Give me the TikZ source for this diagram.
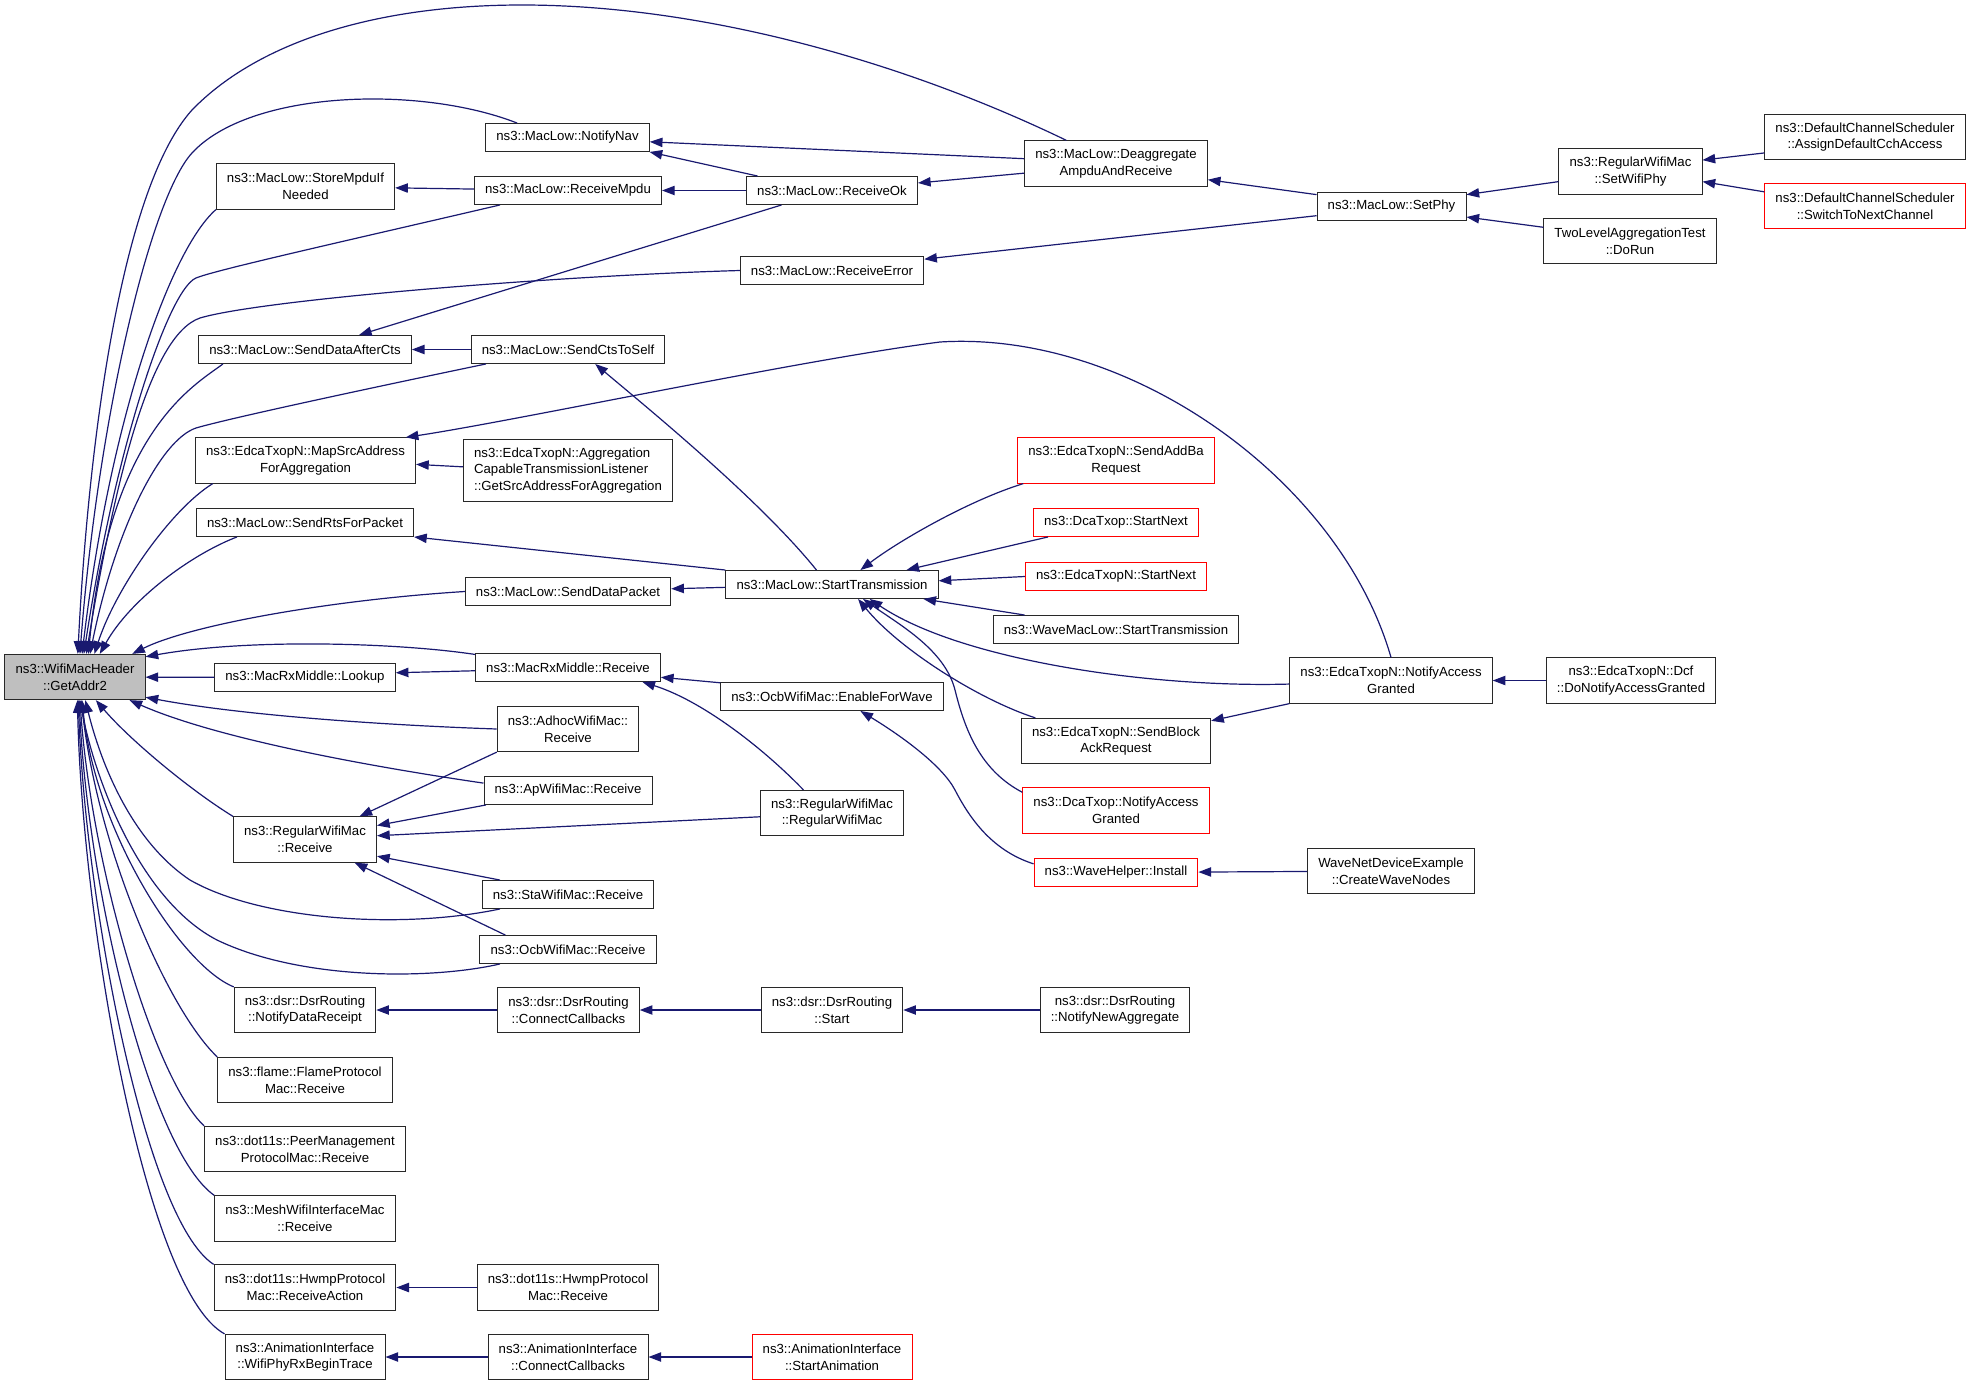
\documentclass[tikz,border=0pt]{standalone}
\usepackage{fontspec}
\setmainfont{Liberation Sans}
\usetikzlibrary{arrows.meta}
\definecolor{edgeblue}{RGB}{25,25,112}
\definecolor{rootgray}{RGB}{191,191,191}
\definecolor{boxline}{RGB}{40,40,40}
\begin{document}
\begin{tikzpicture}[x=0.75pt, y=-0.75pt,
    funcbox/.style ={draw=boxline, line width=0.7pt, fill=white, align=center,
      font=\fontsize{9.9}{12.5}\selectfont, inner xsep=8pt, inner ysep=1pt, minimum height=21pt},
    twoline/.style ={funcbox, minimum height=34pt},
    redbox/.style ={draw=red},
    callarrow/.style ={edgeblue, line width=0.9pt, -{Triangle[length=9.5pt, width=7pt]}}]
   \path[fill=white] (0,0) rectangle (1971,1385);

   \node[twoline, fill=rootgray] (GetAddr) at (75,677) {ns3::WifiMacHeader\\::GetAddr2};

   \node[twoline] (StoreMpdu) at (305.5,186.5) {ns3::MacLow::StoreMpduIf\\Needed};
   \node[funcbox] (SendDataAfterCts) at (305,349.5) {ns3::MacLow::SendDataAfterCts};
   \node[twoline] (MapSrcAddress) at (305.5,460.5) {ns3::EdcaTxopN::MapSrcAddress\\ForAggregation};
   \node[funcbox] (SendRtsForPacket) at (305,522.5) {ns3::MacLow::SendRtsForPacket};
   \node[funcbox] (Lookup) at (305,677.5) {ns3::MacRxMiddle::Lookup};
   \node[twoline] (RegularReceive) at (305,839.5) {ns3::RegularWifiMac\\::Receive};
   \node[twoline] (NotifyDataReceipt) at (305,1010) {ns3::dsr::DsrRouting\\::NotifyDataReceipt};
   \node[twoline] (FlameReceive) at (305,1080) {ns3::flame::FlameProtocol\\Mac::Receive};
   \node[twoline] (PeerReceive) at (305,1149) {ns3::dot11s::PeerManagement\\ProtocolMac::Receive};
   \node[twoline] (MeshReceive) at (305,1218.5) {ns3::MeshWifiInterfaceMac\\::Receive};
   \node[twoline] (HwmpReceiveAction) at (305,1287.5) {ns3::dot11s::HwmpProtocol\\Mac::ReceiveAction};
   \node[twoline] (AnimRxBeginTrace) at (305,1357) {ns3::AnimationInterface\\::WifiPhyRxBeginTrace};

   \node[funcbox] (NotifyNav) at (567.5,137.5) {ns3::MacLow::NotifyNav};
   \node[funcbox] (ReceiveMpdu) at (568,190.5) {ns3::MacLow::ReceiveMpdu};
   \node[funcbox] (SendCtsToSelf) at (568,349.5) {ns3::MacLow::SendCtsToSelf};
   \node[funcbox, align=left, minimum height=47pt] (AggregationListener) at (568,470.5) {ns3::EdcaTxopN::Aggregation\\CapableTransmissionListener\\::GetSrcAddressForAggregation};
   \node[funcbox] (SendDataPacket) at (568,591.5) {ns3::MacLow::SendDataPacket};
   \node[funcbox] (RxMiddleReceive) at (568,667.5) {ns3::MacRxMiddle::Receive};
   \node[twoline] (AdhocReceive) at (568,729) {ns3::AdhocWifiMac::\\Receive};
   \node[funcbox] (ApReceive) at (568,790.5) {ns3::ApWifiMac::Receive};
   \node[funcbox] (StaReceive) at (568,894.5) {ns3::StaWifiMac::Receive};
   \node[funcbox] (OcbReceive) at (568,949.5) {ns3::OcbWifiMac::Receive};
   \node[twoline] (DsrConnect) at (568.5,1010) {ns3::dsr::DsrRouting\\::ConnectCallbacks};
   \node[twoline] (HwmpReceive) at (568,1287.5) {ns3::dot11s::HwmpProtocol\\Mac::Receive};
   \node[twoline] (AnimConnect) at (568,1357) {ns3::AnimationInterface\\::ConnectCallbacks};

   \node[funcbox] (ReceiveOk) at (832,190.5) {ns3::MacLow::ReceiveOk};
   \node[funcbox] (ReceiveError) at (832,270.5) {ns3::MacLow::ReceiveError};
   \node[funcbox] (StartTransmission) at (832,584.5) {ns3::MacLow::StartTransmission};
   \node[funcbox] (EnableForWave) at (832,696.5) {ns3::OcbWifiMac::EnableForWave};
   \node[twoline] (RegularCtor) at (832,813) {ns3::RegularWifiMac\\::RegularWifiMac};
   \node[twoline] (DsrStart) at (832,1010) {ns3::dsr::DsrRouting\\::Start};
   \node[twoline, redbox] (StartAnimation) at (832,1357) {ns3::AnimationInterface\\::StartAnimation};

   \node[twoline] (Deaggregate) at (1116,163.5) {ns3::MacLow::Deaggregate\\AmpduAndReceive};
   \node[twoline, redbox] (SendAddBa) at (1116,460.5) {ns3::EdcaTxopN::SendAddBa\\Request};
   \node[funcbox, redbox] (DcaStartNext) at (1116,522.5) {ns3::DcaTxop::StartNext};
   \node[funcbox, redbox] (EdcaStartNext) at (1116,576.5) {ns3::EdcaTxopN::StartNext};
   \node[funcbox] (WaveStartTransmission) at (1116,629.5) {ns3::WaveMacLow::StartTransmission};
   \node[twoline] (SendBlockAck) at (1116,741) {ns3::EdcaTxopN::SendBlock\\AckRequest};
   \node[twoline, redbox] (DcaNotifyAccess) at (1116,810.5) {ns3::DcaTxop::NotifyAccess\\Granted};
   \node[funcbox, redbox] (WaveInstall) at (1116,872.5) {ns3::WaveHelper::Install};
   \node[twoline] (NotifyNewAggregate) at (1115,1010) {ns3::dsr::DsrRouting\\::NotifyNewAggregate};

   \node[funcbox] (SetPhy) at (1391.5,206.5) {ns3::MacLow::SetPhy};
   \node[twoline] (EdcaNotifyAccess) at (1391,680.5) {ns3::EdcaTxopN::NotifyAccess\\Granted};
   \node[twoline] (CreateWaveNodes) at (1391,871) {WaveNetDeviceExample\\::CreateWaveNodes};

   \node[twoline] (SetWifiPhy) at (1630.5,171.5) {ns3::RegularWifiMac\\::SetWifiPhy};
   \node[twoline] (DoRun) at (1630,241) {TwoLevelAggregationTest\\::DoRun};
   \node[twoline] (DoNotifyAccess) at (1631,680.5) {ns3::EdcaTxopN::Dcf\\::DoNotifyAccessGranted};

   \node[twoline] (AssignCch) at (1865,137) {ns3::DefaultChannelScheduler\\::AssignDefaultCchAccess};
   \node[twoline, redbox] (SwitchChannel) at (1865,206) {ns3::DefaultChannelScheduler\\::SwitchToNextChannel};

   \draw[callarrow] (Deaggregate.155) .. controls (900,60) and (700,5) .. (522,5) .. controls (380,5) and (260,40) .. (192,110) .. controls (120,190) and (88,450) .. (GetAddr.83);
   \draw[callarrow] (NotifyNav.164) .. controls (420,85) and (250,90) .. (192,153) .. controls (150,199) and (98,420) .. (GetAddr.78);
   \draw[callarrow] (StoreMpdu.south west) .. controls (170,250) and (110,420) .. (GetAddr.73);
   \draw[callarrow] (ReceiveMpdu.192) .. controls (350,240) and (215,270) .. (196,278) .. controls (168,290) and (115,450) .. (GetAddr.69);
   \draw[callarrow] (ReceiveError.west) .. controls (550,276) and (260,300) .. (200,318) .. controls (150,335) and (115,480) .. (GetAddr.64);
   \draw[callarrow] (SendDataAfterCts.190) .. controls (195,385) and (110,430) .. (GetAddr.60);
   \draw[callarrow] (SendCtsToSelf.190) .. controls (380,386) and (230,418) .. (196,428) .. controls (160,440) and (115,530) .. (GetAddr.57);
   \draw[callarrow] (MapSrcAddress.194) .. controls (170,510) and (115,590) .. (GetAddr.50);
   \draw[callarrow] (SendRtsForPacket.192) .. controls (190,555) and (130,600) .. (GetAddr.43);
   \draw[callarrow] (SendDataPacket.west) .. controls (330,600) and (190,625) .. (GetAddr.22);
   \draw[callarrow] (RxMiddleReceive.172) .. controls (400,643) and (250,638) .. (GetAddr.16);
   \draw[callarrow] (Lookup) to (GetAddr);
   \draw[callarrow] (AdhocReceive.west) .. controls (380,725) and (240,715) .. (GetAddr.-16);
   \draw[callarrow] (ApReceive.175) .. controls (380,768) and (220,740) .. (GetAddr.-23);
   \draw[callarrow] (RegularReceive.north west) .. controls (190,790) and (130,740) .. (GetAddr.-48);
   \draw[callarrow] (StaReceive.192) .. controls (400,930) and (260,920) .. (190,880) .. controls (130,840) and (100,760) .. (GetAddr.-66);
   \draw[callarrow] (OcbReceive.192) .. controls (430,980) and (300,980) .. (217,940) .. controls (140,900) and (95,780) .. (GetAddr.-78);
   \draw[callarrow] (NotifyDataReceipt.north west) .. controls (180,965) and (95,830) .. (GetAddr.-73);
   \draw[callarrow] (FlameReceive.north west) .. controls (168,1010) and (98,850) .. (GetAddr.-75);
   \draw[callarrow] (PeerReceive.north west) .. controls (155,1080) and (92,870) .. (GetAddr.-78);
   \draw[callarrow] (MeshReceive.north west) .. controls (150,1150) and (88,890) .. (GetAddr.-80);
   \draw[callarrow] (HwmpReceiveAction.north west) .. controls (145,1220) and (85,900) .. (GetAddr.-82);
   \draw[callarrow] (AnimRxBeginTrace.north west) .. controls (145,1290) and (82,920) .. (GetAddr.-84);

   \draw[callarrow] (ReceiveMpdu) to (StoreMpdu);
   \draw[callarrow] (Deaggregate.177) to (NotifyNav.-3);
   \draw[callarrow] (ReceiveOk.169) to (NotifyNav.-10);
   \draw[callarrow] (ReceiveOk) to (ReceiveMpdu);
   \draw[callarrow] (Deaggregate.186) to (ReceiveOk.5);
   \draw[callarrow] (ReceiveOk.196) to (SendDataAfterCts.15);
   \draw[callarrow] (SendCtsToSelf) to (SendDataAfterCts);
   \draw[callarrow] (StartTransmission.137) .. controls (760,500) and (650,410) .. (SendCtsToSelf.-28);
   \draw[callarrow] (SetPhy.171) to (Deaggregate.-10);
   \draw[callarrow] (SetPhy.187) to (ReceiveError.7);
   \draw[callarrow] (SetWifiPhy.188) to (SetPhy.9);
   \draw[callarrow] (DoRun.171) to (SetPhy.-8);
   \draw[callarrow] (AssignCch.189) to (SetWifiPhy.9);
   \draw[callarrow] (SwitchChannel.172) to (SetWifiPhy.-8);
   \draw[callarrow] (AggregationListener.178) to (MapSrcAddress.-2);
   \draw[callarrow] (EdcaNotifyAccess.north) .. controls (1340,480) and (1130,330) .. (940,342) .. controls (800,360) and (520,420) .. (MapSrcAddress.13);
   \draw[callarrow] (StartTransmission.north west) to (SendRtsForPacket.south east);
   \draw[callarrow] (StartTransmission) to (SendDataPacket);
   \draw[callarrow] (SendAddBa.194) .. controls (970,500) and (900,540) .. (StartTransmission.27);
   \draw[callarrow] (DcaStartNext.192) to (StartTransmission.11);
   \draw[callarrow] (EdcaStartNext.west) to (StartTransmission.2);
   \draw[callarrow] (WaveStartTransmission.171) to (StartTransmission.-9);
   \draw[callarrow] (EdcaNotifyAccess.182) .. controls (1150,688) and (960,660) .. (StartTransmission.-21);
   \draw[callarrow] (SendBlockAck.164) .. controls (980,700) and (900,650) .. (StartTransmission.-29);
   \draw[callarrow] (DcaNotifyAccess.169) .. controls (980,770) and (965,730) .. (955,690) .. controls (945,650) and (900,625) .. (StartTransmission.-25);
   \draw[callarrow] (DoNotifyAccess) to (EdcaNotifyAccess);
   \draw[callarrow] (EdcaNotifyAccess.south west) to (SendBlockAck.12);
   \draw[callarrow] (RxMiddleReceive.182) to (Lookup.3);
   \draw[callarrow] (EnableForWave.173) to (RxMiddleReceive.-6);
   \draw[callarrow] (RegularCtor.141) .. controls (760,745) and (700,700) .. (RxMiddleReceive.-11);
   \draw[callarrow] (WaveInstall.174) .. controls (990,850) and (968,815) .. (955,790) .. controls (942,765) and (900,735) .. (EnableForWave.-27);
   \draw[callarrow] (CreateWaveNodes) to (WaveInstall);
   \draw[callarrow] (AdhocReceive.south west) to (RegularReceive.23);
   \draw[callarrow] (ApReceive.190) to (RegularReceive.11);
   \draw[callarrow] (RegularCtor.183) to (RegularReceive.3);
   \draw[callarrow] (StaReceive.168) to (RegularReceive.-13);
   \draw[callarrow] (OcbReceive.167) to (RegularReceive.-25);
   \draw[callarrow] (DsrConnect) to (NotifyDataReceipt);
   \draw[callarrow] (DsrStart) to (DsrConnect);
   \draw[callarrow] (NotifyNewAggregate) to (DsrStart);
   \draw[callarrow] (HwmpReceive) to (HwmpReceiveAction);
   \draw[callarrow] (AnimConnect) to (AnimRxBeginTrace);
   \draw[callarrow] (StartAnimation) to (AnimConnect);

 \end{tikzpicture}
\end{document}
